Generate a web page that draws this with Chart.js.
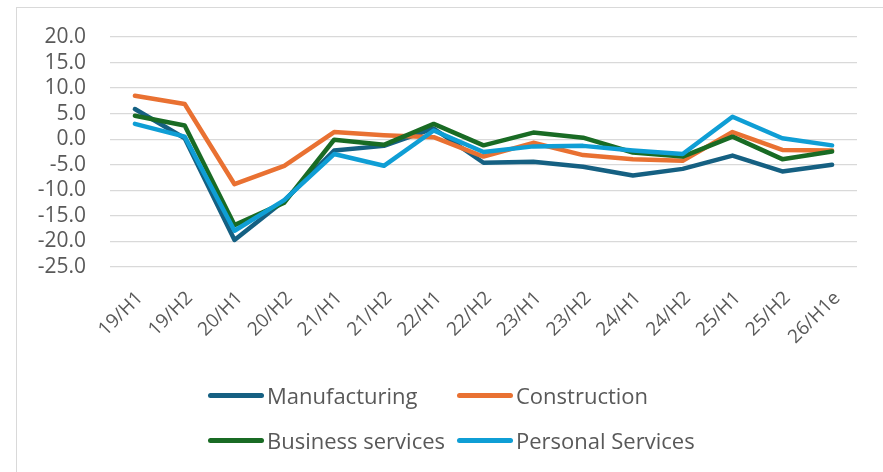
<!DOCTYPE html>
<html>
<head>
<meta charset="utf-8">
<script src="https://cdn.jsdelivr.net/npm/chart.js@4.4.1/dist/chart.umd.min.js"></script>
<style>
  html, body { margin: 0; padding: 0; background: #fff; }
  #wrap { position: relative; width: 883px; height: 472px; overflow: hidden; }
  #frame {
    position: absolute; left: 16px; top: 7px; width: 900px; height: 500px;
    border-left: 1px solid #d9d9d9; border-top: 1px solid #d9d9d9;
  }
  #chart { position: absolute; left: 0; top: 0; }
  #legend { position: absolute; left: 0; top: 0; width: 883px; height: 472px; pointer-events: none; }
  .item {
    position: absolute; display: flex; align-items: center;
    font-family: 'Open Sans', sans-serif; font-size: 22px; color: #595959;
    height: 30px; white-space: nowrap;
  }
  .swatch { display: inline-block; width: 56px; height: 5px; border-radius: 3px; margin-right: 3px; }
</style>
</head>
<body>
<div id="wrap">
  <div id="frame"></div>
  <canvas id="chart" width="883" height="472"></canvas>
  <div id="legend"></div>
</div>
<script>
// Half-year periods
const periods = ['19/H1', '19/H2', '20/H1', '20/H2', '21/H1', '21/H2', '22/H1', '22/H2',
                 '23/H1', '23/H2', '24/H1', '24/H2', '25/H1', '25/H2', '26/H1e'];

// Series values
const manufacturing = [5.9, 0.2, -19.7, -12.0, -2.2, -1.3, 2.1, -4.6, -4.4, -5.4, -7.1, -5.8, -3.2, -6.3, -5.0];
const construction = [8.5, 6.9, -8.8, -5.2, 1.4, 0.8, 0.4, -3.4, -0.7, -3.1, -3.9, -4.2, 1.4, -2.1, -2.2];
const businessServices = [4.6, 2.7, -16.8, -12.4, -0.1, -1.1, 3.0, -1.2, 1.3, 0.3, -2.6, -3.4, 0.5, -3.9, -2.4];
const personalServices = [3.0, 0.5, -17.9, -11.9, -2.9, -5.2, 1.7, -2.5, -1.4, -1.3, -2.2, -2.9, 4.4, 0.2, -1.2];

// Y axis range
const yMin = -25;
const yMax = 20;
const yStep = 5;

const seriesNames = ['Manufacturing', 'Construction', 'Business services', 'Personal Services'];
const seriesColors = ['#156082', '#E97132', '#196B24', '#0F9ED5'];
const seriesData = [manufacturing, construction, businessServices, personalServices];

const gray = '#595959';

const datasets = seriesData.map((values, i) => ({
    label: seriesNames[i],
    data: values,
    borderColor: seriesColors[i],
    backgroundColor: seriesColors[i],
    borderWidth: 4.5,
    pointRadius: 0,
    tension: 0,
    borderCapStyle: 'round',
    borderJoinStyle: 'round',
    // later series drawn on top, like the spreadsheet
    order: seriesData.length - i,
}));

const chart = new Chart(document.getElementById('chart'), {
    type: 'line',
    data: { labels: periods, datasets },
    options: {
        responsive: false,
        animation: false,
        events: [],
        layout: { padding: { top: 37, right: 26, left: 0, bottom: 0 } },
        plugins: {
            legend: { display: false },
            tooltip: { enabled: false },
        },
        scales: {
            x: {
                offset: true,
                grid: { display: false },
                border: { display: false },
                ticks: {
                    color: gray,
                    font: { size: 19, family: 'Open Sans' },
                    minRotation: 45,
                    maxRotation: 45,
                    padding: 12,
                    labelOffset: 5,
                    autoSkip: false,
                },
                afterFit: (scale) => { scale.height = 205; },
            },
            y: {
                min: yMin,
                max: yMax,
                grid: { color: '#d9d9d9', lineWidth: 1.3, drawTicks: false },
                border: { display: false },
                ticks: {
                    stepSize: yStep,
                    autoSkip: false,
                    color: gray,
                    font: { size: 21, family: 'Open Sans' },
                    padding: 24,
                    callback: (val) => val.toFixed(1),
                },
                afterFit: (scale) => { scale.width = 110; },
            }
        }
    }
});

// Legend laid out in two columns, like the original
const legendBox = document.getElementById('legend');
const legendPos = [[208, 380], [457, 380], [208, 425], [457, 425]];
chart.data.datasets.forEach((ds, i) => {
    const item = document.createElement('div');
    item.className = 'item';
    item.style.left = legendPos[i][0] + 'px';
    item.style.top = legendPos[i][1] + 'px';
    const sw = document.createElement('span');
    sw.className = 'swatch';
    sw.style.background = ds.borderColor;
    item.appendChild(sw);
    item.appendChild(document.createTextNode(ds.label));
    legendBox.appendChild(item);
});
</script>
</body>
</html>
